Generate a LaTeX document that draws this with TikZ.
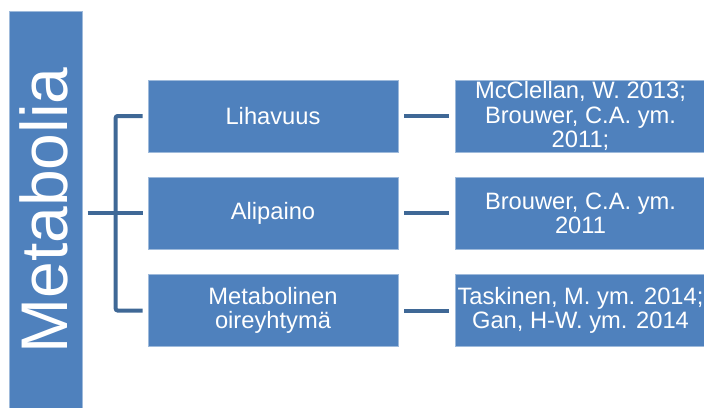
\documentclass[tikz,border=0pt]{standalone}
\usepackage{fontspec}
\setmainfont{Liberation Sans}
\definecolor{boxblue}{HTML}{4F81BD}
\definecolor{linkblue}{HTML}{3F6896}
\begin{document}
\begin{tikzpicture}[x=1pt,y=-1pt,
  card/.style={rectangle, fill=boxblue, draw=boxblue!55!white, line width=0.7pt,
    text=white, align=center, inner sep=0pt,
    font=\fontsize{23.7}{24.3}\selectfont},
  topic/.style={card, minimum width=250, minimum height=72},
  source/.style={card, minimum width=251, minimum height=72},
  link/.style={draw=linkblue, line width=4pt}]
\useasboundingbox (0,0) rectangle (704,407);
\clip (0,0) rectangle (704,407);

% root column
\node[card, minimum width=73, minimum height=402, anchor=north west] (root) at (9,11) {};
\node[rotate=90, anchor=base, text=white, inner sep=0pt,
  font=\fontsize{66}{66}\selectfont] (title) at (67,210.5) {Metabolia};

% topics
\node[topic] (m1) at (273,116) {Lihavuus};
\node[topic] (m2) at (273,213) {Alipaino};
\node[topic] (m3) at (273,310.5) {Metabolinen\\oireyhtymä};

% sources
\node[source] (r1) at (580.5,116) {McClellan, W. 2013;\\Brouwer, C.A. ym.\\2011;};
\node[source] (r2) at (580.5,213) {Brouwer, C.A. ym.\\2011};
\node[source] (r3) at (580.5,310.5) {Taskinen, M. ym. 2014;\\Gan, H-W. ym. 2014};

% bracket from root to topics
\draw[link, rounded corners=2pt] ([xshift=-5pt]m1.west) -- ++(-27,0) |- ([xshift=-5pt]m3.west);
\draw[link] (root.east |- m2.west) ++(5,0) -- ([xshift=-5pt]m2.west);

% topic to source links
\draw[link] ([xshift=6pt]m1.east) -- ([xshift=-6pt]r1.west);
\draw[link] ([xshift=6pt]m2.east) -- ([xshift=-6pt]r2.west);
\draw[link] ([xshift=6pt]m3.east) -- ([xshift=-6pt]r3.west);
\end{tikzpicture}
\end{document}
